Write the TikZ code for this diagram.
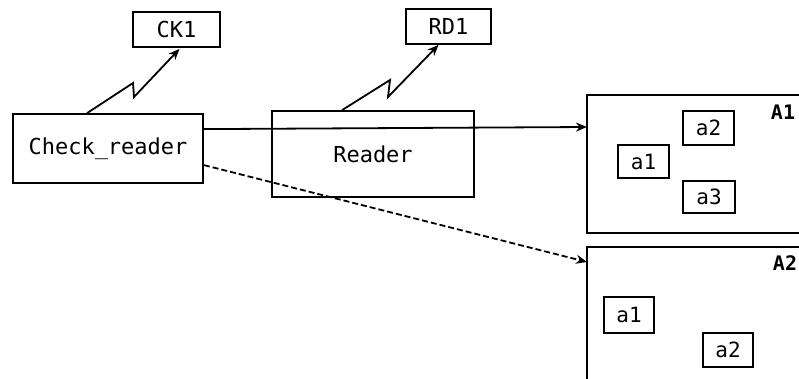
\documentclass[tikz,border=0pt]{standalone}
\usepackage{fontspec}
\newfontfamily\plotfont{DejaVu Sans Mono}
\usetikzlibrary{arrows.meta,calc}
\begin{document}
\begin{tikzpicture}[x=1pt,y=-1pt,
  line width=1.8pt,
  box/.style={draw, rectangle, inner sep=0pt, font=\plotfont\fontsize{22}{24}\selectfont},
  small/.style={box, font=\plotfont\fontsize{21}{23}\selectfont},
  area/.style={rectangle, inner sep=0pt, draw=none},
  arealbl/.style={font=\plotfont\bfseries\fontsize{20}{22}\selectfont, inner sep=0pt},
  conn/.style={-{Stealth[length=11pt,width=9pt]}},
  dconn/.style={conn, dash pattern=on 6pt off 3pt}
]
\useasboundingbox (0,0) rectangle (799,378);

% top boxes
\node[box, minimum width=87pt, minimum height=35pt] (ck) at (176.5,29.5) {CK1};
\node[box, minimum width=85pt, minimum height=35pt] (rd) at (448.5,26.5) {RD1};

% processes
\node[box, minimum width=190pt, minimum height=69pt] (cr) at (108,148.5) {Check\_reader};
\node[box, minimum width=202pt, minimum height=86pt] (rdr) at (373,154) {Reader};

% areas (open to the right / bottom)
\node[area, minimum width=212pt, minimum height=136pt, anchor=north west] (A1) at (587,95) {};
\node[area, minimum width=212pt, minimum height=131pt, anchor=north west] (A2) at (587,247) {};
\draw (A1.north east) -- (A1.north west) -- (A1.south west) -- (A1.south east);
\draw (A2.north east) -- (A2.north west) -- (A2.south west);
\node[arealbl] (A1l) at (783,112) {A1};
\node[arealbl] (A2l) at (785,263) {A2};

% items in A1
\node[small, minimum width=51pt, minimum height=34pt] (a12) at (708.5,128) {a2};
\node[small, minimum width=51pt, minimum height=33pt] (a11) at (643.5,161.5) {a1};
\node[small, minimum width=52pt, minimum height=32pt] (a13) at (709,197) {a3};
% items in A2
\node[small, minimum width=50pt, minimum height=36pt] (a21) at (629,315) {a1};
\node[small, minimum width=50pt, minimum height=34pt] (a22) at (728,350) {a2};

% connectors
\coordinate (crs) at ($(cr.north east)+(0,16)$);
\coordinate (a1e) at ($(A1.north west)+(0,32)$);
\draw[conn] (crs) -- (a1e);
\coordinate (crd) at ($(cr.north east)+(0,52)$);
\coordinate (a2e) at ($(A2.north west)+(0,15)$);
\draw[dconn] (crd) -- (a2e);

% zigzag (flow) arrows
\draw[conn] ($(cr.north west)+(75,0)$) -- (133,83) -- (134,97) -- ($(ck.south)+(3,1)$);
\draw[conn] ($(rdr.north west)+(71,0)$) -- (390,80) -- (388,97) -- ($(rd.south)+(-10,0)$);
\end{tikzpicture}
\end{document}
